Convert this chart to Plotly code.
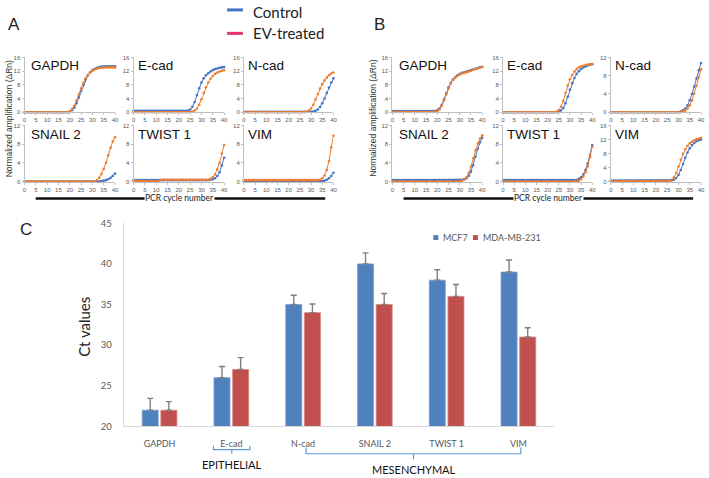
import plotly.graph_objects as go

W, H = 709, 478


def fx(px):
    return px / W


def fy(py):
    return 1 - py / H


cycles = list(range(41))

# ---------------- Panel A (Control = blue, EV-treated = orange) ----------------
A_GAPDH_ctrl = [0, 0, 0, 0, 0, 0, 0, 0, 0, 0,
                0, 0, 0, 0, 0, 0, 0, 0, 0, 0,
                0.2, 0.6, 1.3, 2.6, 4.3, 6.2, 8.0, 9.6, 10.8, 11.7,
                12.3, 12.7, 13.0, 13.2, 13.35, 13.4, 13.45, 13.45, 13.45, 13.45,
                13.45]
A_GAPDH_ev = [0, 0, 0, 0, 0, 0, 0, 0, 0, 0,
              0, 0, 0, 0, 0, 0, 0, 0, 0, 0,
              0.3, 0.9, 1.9, 3.4, 5.2, 7.0, 8.6, 9.9, 10.9, 11.6,
              12.1, 12.5, 12.7, 12.9, 13.0, 13.05, 13.1, 13.1, 13.1, 13.1,
              13.1]
A_Ecad_ctrl = [0.4, 0.4, 0.4, 0.4, 0.4, 0.4, 0.4, 0.4, 0.4, 0.4,
               0.4, 0.4, 0.4, 0.4, 0.4, 0.4, 0.4, 0.4, 0.4, 0.4,
               0.4, 0.4, 0.4, 0.4, 0.5, 0.8, 1.6, 3.0, 5.0, 7.0,
               8.7, 9.9, 10.8, 11.4, 11.9, 12.3, 12.6, 12.8, 13.0, 13.1,
               13.2]
A_Ecad_ev = [0, 0, 0, 0, 0, 0, 0, 0, 0, 0,
             0, 0, 0, 0, 0, 0, 0, 0, 0, 0,
             0, 0, 0, 0, 0, 0, 0.2, 0.5, 1.1, 2.2,
             3.8, 5.6, 7.3, 8.7, 9.8, 10.6, 11.2, 11.6, 11.9, 12.1,
             12.3]
A_Ncad_ctrl = [0.1, 0.1, 0.1, 0.1, 0.1, 0.1, 0.1, 0.1, 0.1, 0.1,
               0.1, 0.1, 0.1, 0.1, 0.1, 0.1, 0.1, 0.1, 0.1, 0.1,
               0.1, 0.1, 0.1, 0.1, 0.1, 0.1, 0.1, 0.1, 0.1, 0.1,
               0.1, 0.2, 0.4, 0.8, 1.5, 2.6, 4.0, 5.6, 7.2, 8.7,
               9.9]
A_Ncad_ev = [0, 0, 0, 0, 0, 0, 0, 0, 0, 0,
             0, 0, 0, 0, 0, 0, 0, 0, 0, 0,
             0, 0, 0, 0, 0, 0, 0, 0, 0.2, 0.5,
             1.1, 2.2, 3.7, 5.3, 6.9, 8.2, 9.3, 10.1, 10.8, 11.3,
             11.6]
A_SNAIL_ctrl = [0, 0, 0, 0, 0, 0, 0, 0, 0, 0,
                0, 0, 0, 0, 0, 0, 0, 0, 0, 0,
                0, 0, 0, 0, 0, 0, 0, 0, 0, 0,
                0, 0, 0, 0, 0.1, 0.2, 0.3, 0.5, 0.8, 1.2,
                1.7]
A_SNAIL_ev = [0, 0, 0, 0, 0, 0, 0, 0, 0, 0,
              0, 0, 0, 0, 0, 0, 0, 0, 0, 0,
              0, 0, 0, 0, 0, 0, 0, 0, 0, 0,
              0, 0, 0.3, 0.8, 1.6, 2.7, 4.0, 5.6, 7.2, 8.6,
              9.5]
A_TWIST_ctrl = [0.3, 0.3, 0.3, 0.3, 0.3, 0.3, 0.3, 0.3, 0.3, 0.3,
                0.3, 0.3, 0.3, 0.3, 0.3, 0.3, 0.3, 0.3, 0.3, 0.3,
                0.3, 0.3, 0.3, 0.3, 0.3, 0.3, 0.3, 0.3, 0.3, 0.3,
                0.3, 0.3, 0.3, 0.3, 0.4, 0.5, 0.7, 1.2, 2.0, 3.5,
                5.1]
A_TWIST_ev = [0.2, 0.2, 0.05, 0.05, 0.05, 0.05, 0.05, 0.05, 0.05, 0.05,
              0.05, 0.05, 0.4, 0.4, 0.4, 0.4, 0.4, 0.4, 0.4, 0.4,
              0.4, 0.4, 0.4, 0.4, 0.4, 0.4, 0.4, 0.4, 0.4, 0.4,
              0.4, 0.4, 0.4, 0.4, 0.6, 0.9, 1.5, 2.6, 4.0, 6.0,
              7.8]
A_VIM_ctrl = [0.1, 0.1, 0.1, 0.1, 0.1, 0.1, 0.1, 0.1, 0.1, 0.1,
              0.1, 0.1, 0.1, 0.1, 0.1, 0.1, 0.1, 0.1, 0.1, 0.1,
              0.1, 0.1, 0.1, 0.1, 0.1, 0.1, 0.1, 0.1, 0.1, 0.1,
              0.1, 0.1, 0.1, 0.1, 0.1, 0.1, 0.2, 0.4, 0.7, 1.2,
              1.9]
A_VIM_ev = [0.3, 0.3, 0.3, 0.3, 0.3, 0.3, 0.3, 0.3, 0.3, 0.3,
            0.3, 0.3, 0.3, 0.3, 0.3, 0.3, 0.3, 0.3, 0.3, 0.3,
            0.3, 0.3, 0.3, 0.3, 0.3, 0.3, 0.3, 0.3, 0.3, 0.3,
            0.3, 0.3, 0.3, 0.3, 0.4, 0.7, 1.3, 2.5, 4.4, 7.3,
            9.8]

# ---------------- Panel B ----------------
B_GAPDH_ctrl = [0.35, 0.35, 0.35, 0.35, 0.35, 0.35, 0.35, 0.35, 0.35, 0.35,
                0.35, 0.35, 0.35, 0.35, 0.35, 0.35, 0.35, 0.35, 0.35, 0.35,
                0.6, 1.1, 2.2, 3.8, 5.6, 7.3, 8.6, 9.6, 10.3, 10.8,
                11.2, 11.5, 11.7, 11.9, 12.1, 12.3, 12.5, 12.7, 12.9, 13.1,
                13.3]
B_GAPDH_ev = [0.05, 0.05, 0.05, 0.05, 0.05, 0.05, 0.05, 0.05, 0.05, 0.05,
              0.05, 0.05, 0.05, 0.05, 0.05, 0.05, 0.05, 0.05, 0.05, 0.05,
              0.3, 0.8, 1.8, 3.4, 5.2, 7.0, 8.4, 9.4, 10.1, 10.6,
              11.0, 11.3, 11.5, 11.7, 11.9, 12.1, 12.4, 12.6, 12.8, 13.0,
              13.2]
B_Ecad_ctrl = [0, 0, 0, 0, 0, 0, 0, 0, 0, 0,
               0, 0, 0, 0, 0, 0, 0, 0, 0, 0,
               0, 0, 0, 0, 0, 0.2, 0.5, 1.2, 2.6, 4.5,
               6.6, 8.5, 10.0, 11.2, 12.0, 12.6, 13.1, 13.4, 13.7, 13.9,
               14.0]
B_Ecad_ev = [0, 0, 0, 0, 0, 0, 0, 0, 0, 0,
             0, 0, 0, 0, 0, 0, 0, 0, 0, 0,
             0, 0, 0, 0, 0.2, 0.6, 1.6, 3.3, 5.6, 7.8,
             9.6, 10.9, 11.9, 12.6, 13.1, 13.4, 13.6, 13.8, 13.9, 14.0,
             14.1]
B_Ncad_ctrl = [0, 0, 0, 0, 0, 0, 0, 0, 0, 0,
               0, 0, 0, 0, 0, 0, 0, 0, 0, 0,
               0, 0, 0, 0, 0, 0, 0, 0, 0, 0,
               0, 0.2, 0.4, 0.8, 1.5, 2.6, 4.0, 5.6, 7.4, 9.2,
               10.8]
B_Ncad_ev = [0, 0, 0, 0, 0, 0, 0, 0, 0, 0,
             0, 0, 0, 0, 0, 0, 0, 0, 0, 0,
             0, 0, 0, 0, 0, 0, 0, 0, 0, 0,
             0, 0, 0.2, 0.4, 0.8, 1.5, 2.6, 4.1, 5.8, 7.7,
             9.4]
B_SNAIL_ctrl = [0.35, 0.35, 0.35, 0.35, 0.35, 0.35, 0.35, 0.35, 0.35, 0.35,
                0.35, 0.35, 0.35, 0.35, 0.35, 0.35, 0.35, 0.35, 0.35, 0.35,
                0.35, 0.35, 0.35, 0.35, 0.35, 0.35, 0.35, 0.35, 0.35, 0.35,
                0.35, 0.35, 0.5, 0.7, 1.2, 2.1, 3.5, 5.3, 7.0, 8.4,
                9.4]
B_SNAIL_ev = [0, 0, 0, 0, 0, 0, 0, 0, 0, 0,
              0, 0, 0, 0, 0, 0, 0, 0, 0, 0,
              0, 0, 0, 0, 0, 0, 0, 0, 0, 0,
              0, 0.2, 0.4, 0.9, 1.8, 3.2, 5.0, 6.7, 8.1, 9.2,
              9.9]
B_TWIST_ctrl = [0.35, 0.35, 0.35, 0.35, 0.35, 0.35, 0.35, 0.35, 0.35, 0.35,
                0.35, 0.35, 0.35, 0.35, 0.35, 0.35, 0.35, 0.35, 0.35, 0.35,
                0.35, 0.35, 0.35, 0.35, 0.35, 0.35, 0.35, 0.35, 0.35, 0.35,
                0.35, 0.35, 0.35, 0.35, 0.6, 0.9, 1.5, 2.5, 3.9, 5.7,
                7.8]
B_TWIST_ev = [0, 0, 0, 0, 0, 0, 0, 0, 0, 0,
              0, 0, 0, 0, 0, 0, 0, 0, 0, 0,
              0, 0, 0, 0, 0, 0, 0, 0, 0, 0,
              0, 0, 0, 0, 0.2, 0.5, 1.1, 2.0, 3.3, 5.2,
              7.4]
B_VIM_ctrl = [0.3, 0.3, 0.3, 0.3, 0.3, 0.3, 0.3, 0.3, 0.3, 0.3,
              0.3, 0.3, 0.3, 0.3, 0.3, 0.3, 0.3, 0.3, 0.3, 0.3,
              0.3, 0.3, 0.3, 0.3, 0.3, 0.3, 0.3, 0.3, 0.5, 1.0,
              1.9, 3.3, 5.0, 6.8, 8.3, 9.5, 10.4, 11.0, 11.5, 11.8,
              12.0]
B_VIM_ev = [0.1, 0.1, 0.1, 0.1, 0.1, 0.1, 0.1, 0.1, 0.1, 0.1,
            0.1, 0.1, 0.1, 0.1, 0.1, 0.1, 0.1, 0.1, 0.1, 0.1,
            0.1, 0.1, 0.1, 0.1, 0.1, 0.1, 0.2, 0.5, 1.2, 2.5,
            4.3, 6.2, 7.9, 9.2, 10.2, 10.9, 11.4, 11.8, 12.1, 12.3,
            12.5]

x_ticks = [0, 5, 10, 15, 20, 25, 30, 35, 40]

# ---------------- Panel C (bar chart) ----------------
genes = ["GAPDH", "E-cad", "N-cad", "SNAIL 2", "TWIST 1", "VIM"]
mcf7_ct = [22, 26, 35, 40, 38, 39]
mcf7_err = [1.45, 1.37, 1.15, 1.36, 1.28, 1.48]
mda_ct = [22, 27, 34, 35, 36, 31]
mda_err = [1.05, 1.46, 1.07, 1.35, 1.47, 1.15]

BLUE = "#4472C4"
ORANGE = "#ED7D31"
BAR_BLUE = "#4F81BD"
BAR_RED = "#C0504D"
TICK_GRAY = "#595959"
AX_GRAY = "#BFBFBF"

cols_A = [(22.7, 114.0), (132.7, 224.0), (244.0, 334.3)]
cols_B = [(393.7, 484.3), (505.3, 595.3), (614.0, 705.0)]
rows = [(52.7, 108.7), (122.3, 179.7)]

panels = [
    # (cols, col index, row index, label, ymax, ctrl, ev)
    (cols_A, 0, 0, "GAPDH", 16, A_GAPDH_ctrl, A_GAPDH_ev),
    (cols_A, 1, 0, "E-cad", 16, A_Ecad_ctrl, A_Ecad_ev),
    (cols_A, 2, 0, "N-cad", 16, A_Ncad_ctrl, A_Ncad_ev),
    (cols_A, 0, 1, "SNAIL 2", 12, A_SNAIL_ctrl, A_SNAIL_ev),
    (cols_A, 1, 1, "TWIST 1", 12, A_TWIST_ctrl, A_TWIST_ev),
    (cols_A, 2, 1, "VIM", 12, A_VIM_ctrl, A_VIM_ev),
    (cols_B, 0, 0, "GAPDH", 16, B_GAPDH_ctrl, B_GAPDH_ev),
    (cols_B, 1, 0, "E-cad", 16, B_Ecad_ctrl, B_Ecad_ev),
    (cols_B, 2, 0, "N-cad", 12, B_Ncad_ctrl, B_Ncad_ev),
    (cols_B, 0, 1, "SNAIL 2", 12, B_SNAIL_ctrl, B_SNAIL_ev),
    (cols_B, 1, 1, "TWIST 1", 12, B_TWIST_ctrl, B_TWIST_ev),
    (cols_B, 2, 1, "VIM", 16, B_VIM_ctrl, B_VIM_ev),
]

fig = go.Figure()
layout = dict(
    width=W, height=H,
    margin=dict(l=0, r=0, t=0, b=0),
    paper_bgcolor="white", plot_bgcolor="white",
    showlegend=False,
    bargap=0.48, bargroupgap=0.14, barmode="group",
)
annotations = []
shapes = []

small_tick_font = dict(family="Liberation Sans, Arial, sans-serif", size=6, color=TICK_GRAY)

for i, (cols, ci, ri, label, ymax, ctrl, ev) in enumerate(panels):
    k = i + 1
    xs = "x" if k == 1 else f"x{k}"
    ys = "y" if k == 1 else f"y{k}"
    xa = "xaxis" if k == 1 else f"xaxis{k}"
    ya = "yaxis" if k == 1 else f"yaxis{k}"
    x0, x1 = cols[ci]
    top, bot = rows[ri]
    layout[xa] = dict(
        domain=[fx(x0), fx(x1)], anchor=ys, range=[0, 40],
        tickvals=x_ticks, tickfont=small_tick_font,
        showline=True, linecolor=AX_GRAY, linewidth=1,
        ticks="outside", ticklen=2, tickcolor=AX_GRAY,
        showgrid=False, zeroline=False, fixedrange=True,
    )
    layout[ya] = dict(
        domain=[fy(bot), fy(top)], anchor=xs, range=[0, ymax], dtick=4,
        tickfont=small_tick_font,
        showline=True, linecolor=AX_GRAY, linewidth=1,
        ticks="outside", ticklen=2, tickcolor=AX_GRAY,
        showgrid=False, zeroline=False, fixedrange=True,
    )
    for vals, col in ((ctrl, BLUE), (ev, ORANGE)):
        fig.add_trace(go.Scatter(
            x=cycles, y=vals, xaxis=xs, yaxis=ys,
            mode="lines+markers",
            line=dict(color=col, width=1),
            marker=dict(color=col, size=2.6),
            cliponaxis=False, showlegend=False, hoverinfo="skip",
        ))
    lx = x0 + (4.5 if ci == 0 else 2)
    ly = 60.5 if ri == 0 else 132
    annotations.append(dict(
        x=fx(lx), y=fy(ly), xref="paper", yref="paper",
        xanchor="left", yanchor="middle", showarrow=False,
        text=label,
        font=dict(family="Liberation Sans Narrow, Arial Narrow, Liberation Sans, Arial", size=13.5, color="#111"),
    ))

# Bar chart
fig.add_trace(go.Bar(
    x=genes, y=mcf7_ct, name="MCF7", xaxis="x13", yaxis="y13",
    marker=dict(color=BAR_BLUE, line=dict(color="#7DA0D0", width=0.8)),
    error_y=dict(type="data", array=mcf7_err, arrayminus=[0] * len(mcf7_err),
                 symmetric=False, color="#7F7F7F", thickness=1.4, width=3),
    showlegend=False, hoverinfo="skip",
))
fig.add_trace(go.Bar(
    x=genes, y=mda_ct, name="MDA-MB-231", xaxis="x13", yaxis="y13",
    marker=dict(color=BAR_RED, line=dict(color="#D98583", width=0.8)),
    error_y=dict(type="data", array=mda_err, arrayminus=[0] * len(mda_err),
                 symmetric=False, color="#7F7F7F", thickness=1.4, width=3),
    showlegend=False, hoverinfo="skip",
))
cal_font = "Lato, Open Sans, sans-serif"
layout["xaxis13"] = dict(
    domain=[fx(122.7), fx(557)], anchor="y13", type="category",
    showline=True, linecolor="#D9D9D9", linewidth=1.2,
    tickfont=dict(family=cal_font, size=9, color=TICK_GRAY),
    ticks="", ticklabelstandoff=9, showgrid=False, zeroline=False, fixedrange=True,
)
layout["yaxis13"] = dict(
    domain=[fy(430.3), fy(222.4)], anchor="x13", range=[20, 45], dtick=5,
    showline=True, linecolor="#D9D9D9", linewidth=1.2,
    tickfont=dict(family=cal_font, size=9.5, color=TICK_GRAY),
    ticks="", ticklabelstandoff=9, showgrid=False, zeroline=False, fixedrange=True,
)

# Panel letters
for txt, cx, cy in (("A", 12, 19), ("B", 381, 19), ("C", 24, 229)):
    annotations.append(dict(x=fx(cx), y=fy(cy), xref="paper", yref="paper",
                            xanchor="center", yanchor="middle", showarrow=False,
                            text=txt, font=dict(family="Liberation Sans, Arial", size=17, color="#222")))

# Top legend (Control / EV-treated)
shapes.append(dict(type="line", xref="paper", yref="paper",
                   x0=fx(227), x1=fx(243), y0=fy(4), y1=fy(4),
                   line=dict(color=BLUE, width=3)))
shapes.append(dict(type="line", xref="paper", yref="paper",
                   x0=fx(227), x1=fx(243), y0=fy(28), y1=fy(28),
                   line=dict(color="#E8336B", width=3)))
for txt, cy in (("Control", 6), ("EV-treated", 28)):
    annotations.append(dict(x=fx(251), y=fy(cy), xref="paper", yref="paper",
                            xanchor="left", yanchor="middle", showarrow=False,
                            text=txt, font=dict(family=cal_font, size=15, color="#222")))

# y titles for A and B
for cx in (7, 374.5):
    annotations.append(dict(x=fx(cx), y=fy(115), xref="paper", yref="paper",
                            xanchor="center", yanchor="middle", showarrow=False, textangle=-90,
                            text="Normalized amplification (ΔRn)",
                            font=dict(family="Liberation Sans, Arial", size=8.5, color="#333")))

# PCR cycle number rules
for (l0, l1, r0, r1, tc, yy) in ((34, 146, 213, 326, 179.5, 197), (405, 518, 585, 697, 551.5, 197)):
    for a, b in ((l0, l1), (r0, r1)):
        shapes.append(dict(type="line", xref="paper", yref="paper",
                           x0=fx(a), x1=fx(b), y0=fy(yy), y1=fy(yy),
                           line=dict(color="#111", width=2.5)))
    annotations.append(dict(x=fx(tc), y=fy(yy - 0.5), xref="paper", yref="paper",
                            xanchor="center", yanchor="middle", showarrow=False,
                            text="PCR cycle number", bgcolor="white", borderpad=0,
                            font=dict(family=cal_font, size=8.5, color="#222")))

# Bar chart title and legend
annotations.append(dict(x=fx(83), y=fy(328), xref="paper", yref="paper",
                        xanchor="center", yanchor="middle", showarrow=False, textangle=-90,
                        text="Ct values", font=dict(family=cal_font, size=15, color="#222")))
for txt, col, sx in (("MCF7", BAR_BLUE, 435), ("MDA-MB-231", BAR_RED, 475)):
    shapes.append(dict(type="rect", xref="paper", yref="paper",
                       x0=fx(sx), x1=fx(sx + 5), y0=fy(239.5), y1=fy(234.5),
                       fillcolor=col, line=dict(width=0)))
    annotations.append(dict(x=fx(sx + 8), y=fy(237), xref="paper", yref="paper",
                            xanchor="left", yanchor="middle", showarrow=False,
                            text=txt, font=dict(family=cal_font, size=9, color=TICK_GRAY)))

# Group brackets
BR = "#5B9BD5"


def pth(points):
    s = ""
    for cmd, x, y in points:
        s += f"{cmd}{fx(x):.5f},{fy(y):.5f} "
    return s.strip()


shapes.append(dict(type="path", xref="paper", yref="paper",
                   path=pth([("M", 213.3, 450), ("L", 213.3, 454), ("L", 250, 454), ("L", 250, 450),
                             ("M", 231.7, 454), ("L", 231.7, 458)]),
                   line=dict(color=BR, width=1.2)))
shapes.append(dict(type="path", xref="paper", yref="paper",
                   path=pth([("M", 306.7, 452), ("L", 306.7, 458.3), ("L", 523.3, 458.3), ("L", 523.3, 452),
                             ("M", 415, 458.3), ("L", 415, 464)]),
                   line=dict(color=BR, width=1.2)))
annotations.append(dict(x=fx(231.7), y=fy(469), xref="paper", yref="paper",
                        xanchor="center", yanchor="middle", showarrow=False,
                        text="EPITHELIAL", font=dict(family=cal_font, size=11, color="#111")))
annotations.append(dict(x=fx(416), y=fy(474), xref="paper", yref="paper",
                        xanchor="center", yanchor="middle", showarrow=False,
                        text="MESENCHYMAL", font=dict(family=cal_font, size=11, color="#111")))

layout["annotations"] = annotations
layout["shapes"] = shapes
fig.update_layout(**layout)
fig.write_html("out.html")
